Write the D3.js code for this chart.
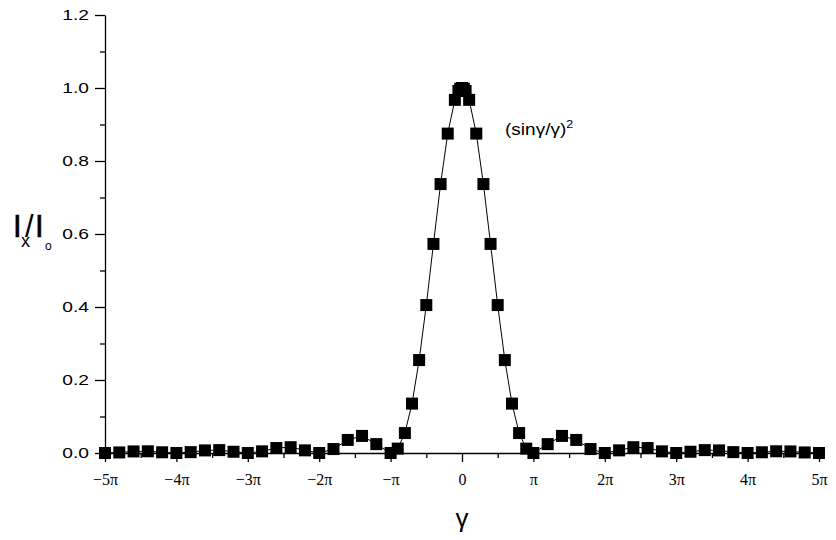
<!DOCTYPE html>
<html>
<head>
<meta charset="utf-8">
<script src="https://cdn.jsdelivr.net/npm/d3@7"></script>
<style>
  body { margin: 0; background: #fff; }
  svg { display: block; }
  .y-axis text { font-family: "Liberation Sans", Arial, sans-serif; font-size: 15px; }
  .x-axis text { font-family: "Liberation Serif", "Times New Roman", serif; font-size: 16px; }
</style>
</head>
<body>
<div id="chart"></div>
<script>
const svgWidth = 836;
const svgHeight = 540;

// gamma in units of pi, and (sin g / g)^2
const gammaPi = [
  -5.0, -4.8, -4.6, -4.4, -4.2, -4.0, -3.8, -3.6, -3.4, -3.2,
  -3.0, -2.8, -2.6, -2.4, -2.2, -2.0, -1.8, -1.6, -1.4, -1.2,
  -1.0, -0.9, -0.8, -0.7, -0.6, -0.5, -0.4, -0.3, -0.2, -0.1,
  -0.05, -0.025, 0, 0.025, 0.05,
  0.1, 0.2, 0.3, 0.4, 0.5, 0.6, 0.7, 0.8, 0.9, 1.0,
  1.2, 1.4, 1.6, 1.8, 2.0, 2.2, 2.4, 2.6, 2.8, 3.0,
  3.2, 3.4, 3.6, 3.8, 4.0, 4.2, 4.4, 4.6, 4.8, 5.0
];
const intensity = [
  0.0000, 0.0015, 0.0043, 0.0047, 0.0020, 0.0000, 0.0024, 0.0071, 0.0079, 0.0034,
  0.0000, 0.0045, 0.0136, 0.0159, 0.0072, 0.0000, 0.0108, 0.0358, 0.0468, 0.0243,
  0.0000, 0.0120, 0.0547, 0.1353, 0.2546, 0.4053, 0.5728, 0.7368, 0.8751, 0.9675,
  0.9918, 0.9980, 1.0000, 0.9980, 0.9918,
  0.9675, 0.8751, 0.7368, 0.5728, 0.4053, 0.2546, 0.1353, 0.0547, 0.0120, 0.0000,
  0.0243, 0.0468, 0.0358, 0.0108, 0.0000, 0.0072, 0.0159, 0.0136, 0.0045, 0.0000,
  0.0034, 0.0079, 0.0071, 0.0024, 0.0000, 0.0020, 0.0047, 0.0043, 0.0015, 0.0000
];

const xTickValues = [-5, -4, -3, -2, -1, 0, 1, 2, 3, 4, 5];
const xTickLabels = ["\u22125\u03c0", "\u22124\u03c0", "\u22123\u03c0", "\u22122\u03c0", "\u2212\u03c0",
                     "0", "\u03c0", "2\u03c0", "3\u03c0", "4\u03c0", "5\u03c0"];
const xMinorTicks = [-4.5, -3.5, -2.5, -1.5, -0.5, 0.5, 1.5, 2.5, 3.5, 4.5];
const yTickValues = [0, 0.2, 0.4, 0.6, 0.8, 1.0, 1.2];
const yMinorTicks = [0.1, 0.3, 0.5, 0.7, 0.9, 1.1];

const points = gammaPi.map((g, i) => ({ g: g, v: intensity[i] }));

var svg = d3.select("#chart")
    .append("svg")
    .attr("width", svgWidth)
    .attr("height", svgHeight);

var xScale = d3.scaleLinear().domain([-5, 5]).range([105, 819]);
var yScale = d3.scaleLinear().domain([0, 1.2]).range([453, 15]);

// ------- AXES --------
var xAxis = svg.append("g")
    .classed("x-axis", true)
    .attr("transform", `translate(0, ${yScale(0)})`)
    .call(d3.axisBottom(xScale)
        .tickValues(xTickValues)
        .tickFormat((d, i) => xTickLabels[i])
        .tickSize(9)
        .tickSizeOuter(0)
        .tickPadding(12));

svg.append("g")
    .attr("transform", `translate(0, ${yScale(0)})`)
    .call(d3.axisBottom(xScale)
        .tickValues(xMinorTicks)
        .tickFormat("")
        .tickSize(5)
        .tickSizeOuter(0))
    .select(".domain").remove();

var yAxis = svg.append("g")
    .classed("y-axis", true)
    .attr("transform", `translate(${xScale(-5)}, 0)`)
    .call(d3.axisLeft(yScale)
        .tickValues(yTickValues)
        .tickFormat(d3.format(".1f"))
        .tickSize(10)
        .tickSizeOuter(0)
        .tickPadding(6));

// the original's labels are drawn wider than the font, stretch them
var stretch = 1.28;
yAxis.selectAll(".tick text")
    .attr("x", -16 / stretch)
    .attr("transform", `scale(${stretch},1)`);

svg.append("g")
    .attr("transform", `translate(${xScale(-5)}, 0)`)
    .call(d3.axisLeft(yScale)
        .tickValues(yMinorTicks)
        .tickFormat("")
        .tickSize(5)
        .tickSizeOuter(0))
    .select(".domain").remove();

svg.selectAll(".domain, .tick line")
    .attr("stroke", "#000")
    .attr("stroke-width", 1.3);

// ------- LINE + MARKERS --------
var line = d3.line()
    .x(d => xScale(d.g))
    .y(d => yScale(d.v));

svg.append("path")
    .datum(points)
    .attr("fill", "none")
    .attr("stroke", "#000")
    .attr("stroke-width", 1)
    .attr("d", line);

var sq = 12;
svg.append("g")
    .selectAll("rect")
    .data(points)
    .enter()
    .append("rect")
    .attr("x", d => xScale(d.g) - sq / 2)
    .attr("y", d => yScale(d.v) - sq / 2)
    .attr("width", sq)
    .attr("height", sq)
    .attr("fill", "#000");

// ------- LABELS --------
var sans = "'Liberation Sans', Arial, sans-serif";

// curve annotation
var note = svg.append("text")
    .attr("font-family", sans)
    .attr("transform", "translate(505,135) scale(1.12,1)");
note.append("tspan")
    .attr("font-size", 17)
    .text("(sin\u03b3/\u03b3)");
note.append("tspan")
    .attr("font-size", 11)
    .attr("dy", -7)
    .text("2");

// x label
svg.append("text")
    .attr("x", xScale(0))
    .attr("y", 527)
    .attr("text-anchor", "middle")
    .attr("font-family", sans)
    .attr("font-size", 26)
    .text("\u03b3");

// y label  I_x / I_o  (one text, parts placed like the original)
var yl = svg.append("text")
    .attr("font-family", sans)
    .attr("stroke", "#000")
    .attr("stroke-width", 0.6);
yl.append("tspan").attr("x", 13).attr("y", 237).attr("font-size", 31).text("I");
yl.append("tspan").attr("x", 21).attr("y", 247).attr("font-size", 18)
    .attr("stroke-width", 0).text("x");
yl.append("tspan").attr("x", 25).attr("y", 237).attr("font-size", 31)
    .attr("stroke-width", 0).text("/");
yl.append("tspan").attr("x", 35).attr("y", 237).attr("font-size", 31).text("I");
yl.append("tspan").attr("x", 45).attr("y", 250).attr("font-size", 12)
    .attr("stroke-width", 0).text("o");
</script>
</body>
</html>
